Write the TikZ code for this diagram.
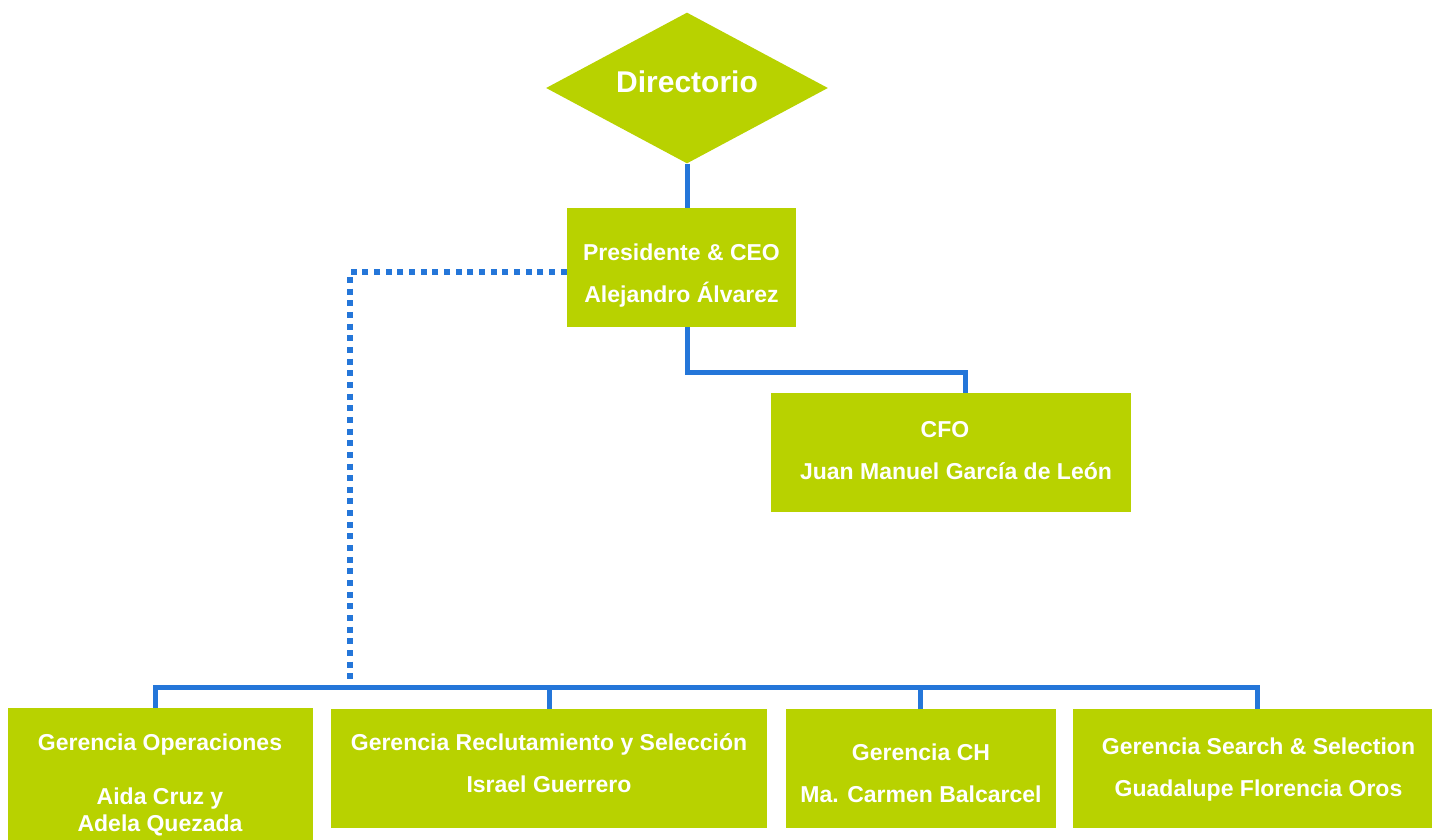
\documentclass[tikz,border=0pt]{standalone}
\usepackage{fontspec}
\setmainfont{Liberation Sans}
\usetikzlibrary{shapes.geometric}
\definecolor{lime}{RGB}{184,210,0}
\definecolor{linkblue}{RGB}{36,118,217}
\begin{document}
\begin{tikzpicture}[x=0.5pt,y=-0.5pt,
  box/.style={fill=lime, inner sep=0pt},
  lbl/.style={inner sep=0pt, text=white, align=center,
    font=\bfseries\fontsize{11.5}{21}\selectfont},
  dirbox/.style={diamond, fill=lime, inner sep=0pt},
  link/.style={draw=linkblue, line width=2.5pt, line join=miter},
  dotlink/.style={draw=linkblue, line width=3pt, dash pattern=on 3pt off 2.83pt}]
\useasboundingbox (0,0) rectangle (1432,840);

% shapes
\node[dirbox, minimum width=141pt, minimum height=75.5pt] (dir) at (687,88) {};
\node[box, minimum width=114.5pt, minimum height=59.5pt] (ceo) at (681.5,267.5) {};
\node[box, minimum width=180pt, minimum height=59.5pt] (cfo) at (951,452.5) {};
\node[box, minimum width=152.5pt, minimum height=74pt] (op) at (160.5,782) {};
\node[box, minimum width=218pt, minimum height=59.5pt] (rs) at (549,768.5) {};
\node[box, minimum width=135pt, minimum height=59.5pt] (ch) at (921,768.5) {};
\node[box, minimum width=183.5pt, minimum height=59.5pt] (ss) at (1256.5,768.5) {};

% texts
\node[lbl, font=\bfseries\fontsize{15}{18}\selectfont] (dir-t) at (687,82) {Directorio};
\node[lbl] (ceo-t) at (681.5,275.5) {Presidente \& CEO\\Alejandro Álvarez};
\node[lbl] (cfo-t) at (951,451)
  {CFO\hspace*{6pt}\\\hspace*{5pt}Juan Manuel García de León};
\node[lbl, font=\bfseries\fontsize{11.5}{13.5}\selectfont] (op-t) at (160,784.5)
  {Gerencia Operaciones\\[13.5pt]Aida Cruz y\\Adela Quezada};
\node[lbl] (rs-t) at (549,763) {Gerencia Reclutamiento y Selección\\Israel Guerrero};
\node[lbl] (ch-t) at (921,773.5) {Gerencia CH\\Ma. Carmen Balcarcel};
\node[lbl] (ss-t) at (1258.5,769.5) {Gerencia Search \& Selection\\Guadalupe Florencia Oros};

% connectors
\coordinate (cfoin) at (965,393);
\coordinate (opin) at (155,708);
\coordinate (rsin) at (549,709);
\coordinate (chin) at (920,709);
\coordinate (ssin) at (1257,709);
\coordinate (bus) at (350,687.5);
\coordinate (dotend) at (350,685);

\draw[link] (dir.south) -- (dir.south |- ceo.north);
\draw[link] (ceo.south -| dir.south) -- ++(0,45) -| (cfoin);
\draw[link] (opin) |- (bus) -| (ssin);
\draw[link] (rsin) -- (rsin |- bus);
\draw[link] (chin) -- (chin |- bus);
\draw[dotlink] ([yshift=-2.25pt]ceo.west) -| (dotend);
\end{tikzpicture}
\end{document}
